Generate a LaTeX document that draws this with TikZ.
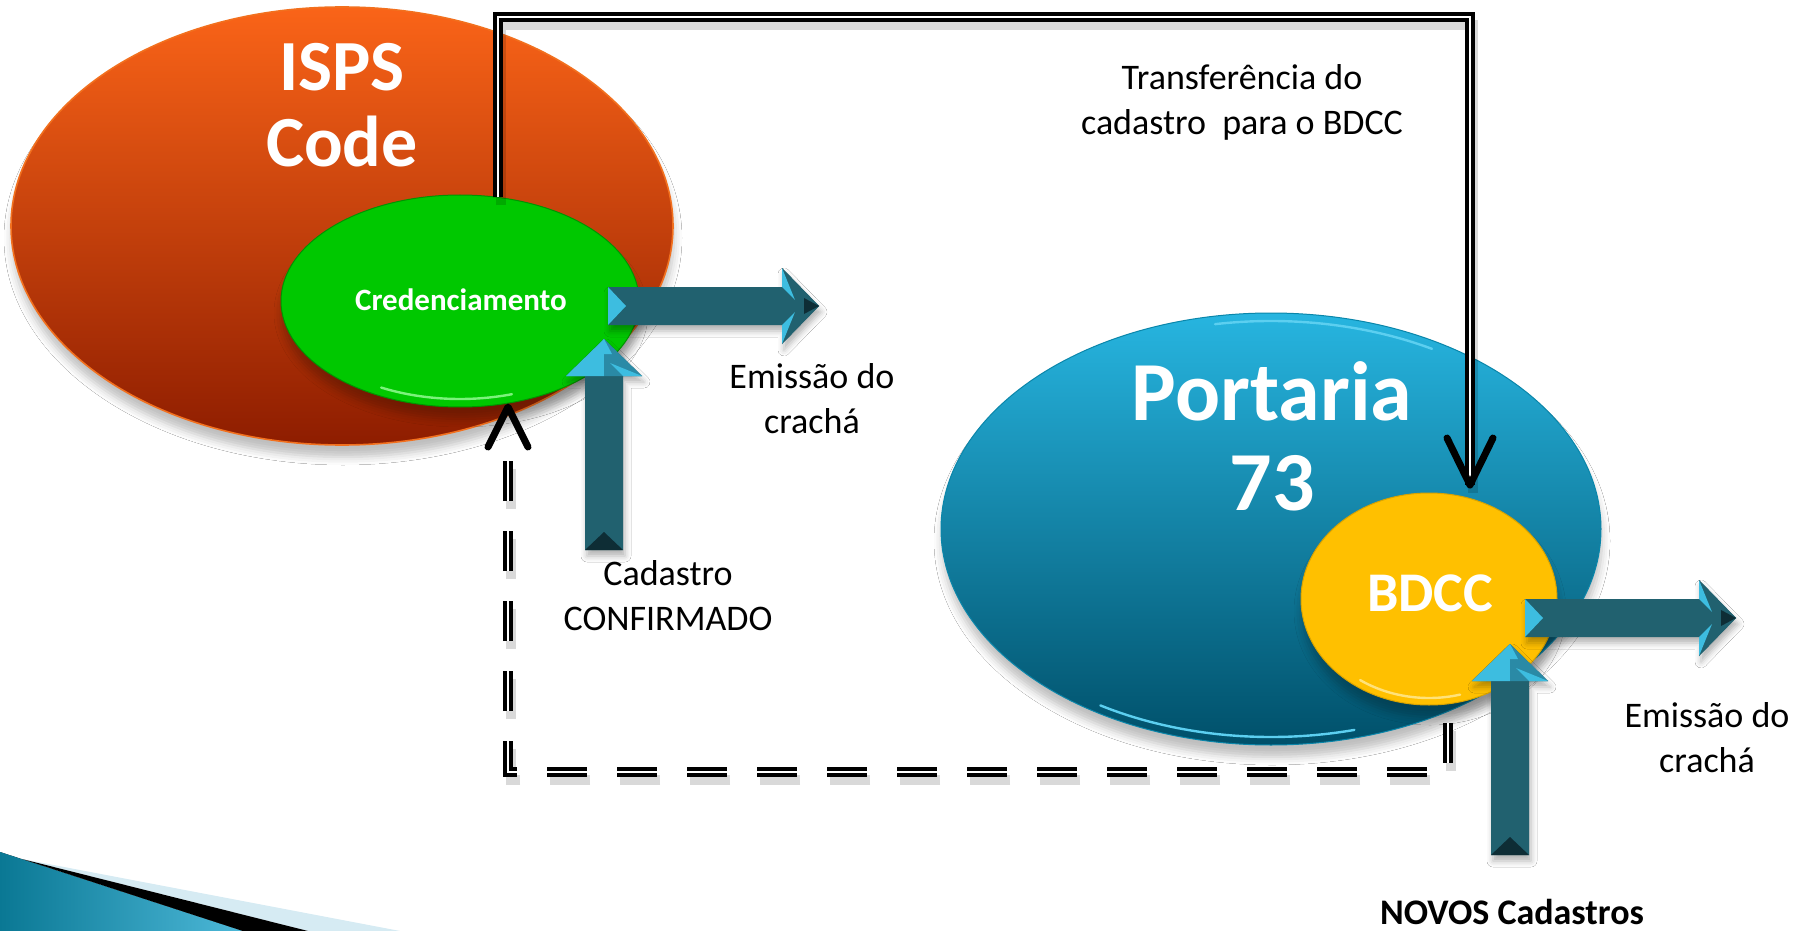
\documentclass[tikz,border=0pt]{standalone}
\usepackage{fontspec}
\setmainfont{Carlito}
\usetikzlibrary{shapes.geometric,calc,shadows.blur}

\definecolor{orTop}{HTML}{FA6418}
\definecolor{orMid}{HTML}{E23F00}
\definecolor{orBot}{HTML}{8E1D00}
\definecolor{orRim}{HTML}{F2701E}
\definecolor{grFill}{HTML}{00C800}
\definecolor{grRim}{HTML}{009400}
\definecolor{grHi}{HTML}{7CF27C}
\definecolor{blTop}{HTML}{27B5E0}
\definecolor{blMid}{HTML}{0A86AA}
\definecolor{blBot}{HTML}{00506A}
\definecolor{blHi}{HTML}{5CCFF0}
\definecolor{yeFill}{HTML}{FFC000}
\definecolor{yeHi}{HTML}{FFE27A}
\definecolor{arBody}{HTML}{21616F}
\definecolor{arLight}{HTML}{3DBDE0}
\definecolor{arMid}{HTML}{2A8AA6}
\definecolor{arDark}{HTML}{0E2D35}
\definecolor{deDark}{HTML}{0A7894}
\definecolor{deLight}{HTML}{4DB8D8}
\definecolor{deBand}{HTML}{D6EBF3}

% big 3D arrow: #1 tail coordinate, #2 rotation, #3 variant (h or v)
\newcommand\tealArrow[3]{%
  \begin{scope}[shift={(#1)}, rotate=#2]
    \fill[arBody, blur shadow={shadow xshift=1pt,shadow yshift=-3pt,shadow blur radius=3pt,shadow opacity=30}]
      (0,-19) -- (174,-19) -- (174,-38) -- (211,0) -- (174,38) -- (174,19) -- (0,19) -- cycle;
    \fill[#3tail] (0,-19) -- (18,0) -- (0,19) -- cycle;
    \fill[#3faceA] (174,-38) -- (211,0) -- (174,0) -- cycle;
    \fill[#3faceB] (174,38) -- (211,0) -- (174,0) -- cycle;
    \fill[#3ear] (174,-38) -- (187,-6) -- (174,-19) -- cycle;
    \fill[#3ear] (174,38) -- (187,6) -- (174,19) -- cycle;
    \fill[#3tip] (196,-8) -- (211,0) -- (196,8) -- cycle;
  \end{scope}}

\begin{document}
\begin{tikzpicture}[x=0.5pt,y=-0.5pt,
  ell/.style={ellipse, inner sep=0pt, outer sep=0pt},
  eshadow/.style={blur shadow={shadow xshift=0.5pt,shadow yshift=-6pt,shadow blur radius=4pt,shadow opacity=25}},
  wlabel/.style={text=white, align=center, inner sep=0pt},
  blabel/.style={text=black, align=center, inner sep=0pt, font=\fontsize{18}{22.5}\selectfont},
  conn/.style={draw=black, line width=2pt, double=white, double distance=1.2pt},
  connshadow/.style={draw=black, opacity=0.15, line width=5pt, transform canvas={shift={(1.5pt,-4pt)}}},
  vhead/.style={draw=black, line width=3.5pt, line cap=round, line join=round},
  htail/.style={fill=arLight}, hfaceA/.style={fill=arBody}, hfaceB/.style={fill=arBody},
  hear/.style={fill=arLight}, htip/.style={fill=arDark},
  vtail/.style={fill=arDark}, vfaceA/.style={fill=arLight}, vfaceB/.style={fill=arMid},
  vear/.style={fill=arLight}, vtip/.style={fill=arLight}
]
\fill[white] (0,0) rectangle (1806,931);
\useasboundingbox (0,0) rectangle (1806,931);

% bottom-left decoration
\fill[left color=deDark, right color=deLight] (0,852) -- (243,931) -- (0,931) -- cycle;
\fill[deBand] (22,859) -- (400,931) -- (308,931) -- cycle;
\fill[black] (22,859) -- (308,931) -- (243,931) -- cycle;

% ellipses
\node[ell, minimum width=331pt, minimum height=219pt, top color=orTop, middle color=orMid, bottom color=orBot, draw=orRim, line width=0.8pt, eshadow] (isps) at (342,226) {};
\node[ell, minimum width=179pt, minimum height=106pt, fill=grFill, draw=grRim, line width=0.5pt, eshadow] (cred) at (460,301) {};
\draw[grHi, line width=1.2pt, line cap=round] (460,301) ++(118:168 and 98) arc[start angle=118, end angle=72, x radius=168, y radius=98];
\node[ell, minimum width=330pt, minimum height=216pt, top color=blTop, middle color=blMid, bottom color=blBot, draw=blMid, line width=0.5pt, eshadow] (port) at (1271,529) {};
\draw[blHi, line width=1.2pt, line cap=round] (1271,529) ++(122:322 and 208) arc[start angle=122, end angle=75, x radius=322, y radius=208];
\draw[blHi, line width=1.2pt, line cap=round] (1271,529) ++(-100:322 and 208) arc[start angle=-100, end angle=-60, x radius=322, y radius=208];
\node[ell, minimum width=128pt, minimum height=106pt, fill=yeFill, draw=yeFill!85!black, line width=0.5pt, eshadow] (bdcc) at (1429,599) {};
\draw[yeHi, line width=1.2pt, line cap=round] (1429,599) ++(125:120 and 99) arc[start angle=125, end angle=75, x radius=120, y radius=99];

% connector: transfer (top, double line)
\coordinate (topL) at (499,17);
\coordinate (tipB) at (1470,485);
\draw[connshadow] (cred.70) -- (cred.70 |- topL) -| (tipB);
\draw[conn] (cred.70) -- (cred.70 |- topL) -| (tipB);
\draw[vhead] ($(tipB)+(-23,-47)$) -- (tipB) -- ($(tipB)+(23,-47)$);

% connector: dashed return
\coordinate (d0) at (1448,723);
\coordinate (dc) at (508,772);
\coordinate (dEnd) at (508,460);
\coordinate (tipA) at (508,407);
\draw[connshadow, dash pattern=on 20pt off 15pt] (d0) |- (dc) -- (dEnd);
\draw[conn, dash pattern=on 20pt off 15pt] (d0) |- (dc) -- (dEnd);
\draw[vhead] ($(tipA)+(-20,40)$) -- (tipA) -- ($(tipA)+(20,40)$);

% big teal arrows
\coordinate (a1) at (608,306);
\coordinate (a2) at (604,550);
\coordinate (a3) at (1525,618);
\coordinate (a4) at (1510,855);
\tealArrow{a1}{0}{h}
\tealArrow{a2}{90}{v}
\tealArrow{a3}{0}{h}
\tealArrow{a4}{90}{v}

% labels (anchor=base is the baseline of the last line)
\node[wlabel, font=\bfseries\fontsize{36}{38}\selectfont, anchor=base] (ispsT) at (342,167) {ISPS\\Code};
\node[wlabel, font=\bfseries\fontsize{15.5}{18}\selectfont, anchor=base] (credT) at (461,310) {Credenciamento};
\node[wlabel, font=\bfseries\fontsize{42}{45}\selectfont, anchor=base] (portT) at (1272,510) {Portaria\\73};
\node[wlabel, font=\bfseries\fontsize{28}{30}\selectfont, anchor=base] (bdccT) at (1430,611) {BDCC};
\node[blabel, anchor=base] (em1) at (812,433) {Emissão do\\crachá};
\node[blabel, anchor=base] (cad) at (668,630) {Cadastro\\CONFIRMADO};
\node[blabel, anchor=base] (transf) at (1242,135) {Transferência do\\cadastro\ \ para o BDCC};
\node[blabel, anchor=base] (em2) at (1707,772) {Emissão do\\crachá};
\node[blabel, font=\bfseries\fontsize{18}{22.5}\selectfont, anchor=base] (novos) at (1512,924) {NOVOS Cadastros};
\end{tikzpicture}
\end{document}
